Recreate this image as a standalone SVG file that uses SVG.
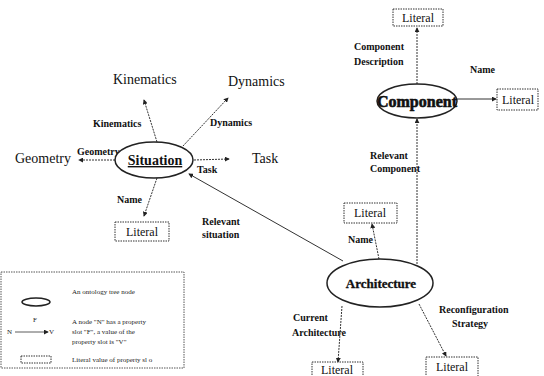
<svg xmlns="http://www.w3.org/2000/svg" width="544" height="376" viewBox="0 0 544 376" font-family="'Liberation Serif', 'Times New Roman', 'DejaVu Serif', serif">
<defs>
<marker id="ah" viewBox="0 0 6 6" refX="5" refY="3" markerWidth="5" markerHeight="5" orient="auto" markerUnits="userSpaceOnUse">
<path d="M0,0 L6,3 L0,6 Z" fill="#222"/>
</marker>
<style>
text{font-family:"Liberation Serif","Times New Roman","DejaVu Serif",serif}
.conn{stroke:#333;stroke-width:1;fill:none;stroke-dasharray:2,1;marker-end:url(#ah)}
.solid{stroke:#333;stroke-width:1;fill:none;marker-end:url(#ah)}
.ell{fill:#fff;stroke:#222;stroke-width:1.5}
.lit{fill:#fff;stroke:#333;stroke-width:1;stroke-dasharray:1.5,1}
.big{font-size:14px;fill:#111}
.lt{font-size:12px;fill:#111;text-anchor:middle}
.sm{font-size:10px;font-weight:bold;fill:#111}
.nd{font-weight:bold;fill:#111;text-anchor:middle}
.lg{font-size:7px;fill:#222}
</style>
</defs>
<rect width="544" height="376" fill="#fff"/>
<g id="connectors">
<line class="conn" x1="157" y1="142" x2="144" y2="100"/>
<line class="conn" x1="183" y1="146" x2="228" y2="98"/>
<line class="conn" x1="115" y1="160" x2="79" y2="160"/>
<line class="conn" x1="194" y1="160" x2="229" y2="159"/>
<line class="conn" x1="157" y1="178" x2="144" y2="216"/>
<line class="solid" x1="343" y1="261" x2="189" y2="174"/>
<line class="conn" x1="417" y1="84" x2="417" y2="28"/>
<line class="solid" x1="457" y1="99" x2="496" y2="99"/>
<line class="conn" x1="417" y1="264" x2="417" y2="119"/>
<line class="conn" x1="379" y1="259" x2="372" y2="224"/>
<line class="conn" x1="342" y1="306" x2="338" y2="362"/>
<line class="conn" x1="419" y1="304" x2="446" y2="356"/>
</g>
<g id="labels">
<text class="sm" x="93" y="127">Kinematics</text>
<text class="sm" x="210" y="126">Dynamics</text>
<text class="sm" x="77" y="155">Geometry</text>
<text class="sm" x="197" y="173">Task</text>
<text class="sm" x="117" y="203">Name</text>
<text class="sm" x="202" y="225">Relevant</text>
<text class="sm" x="202" y="238">situation</text>
<text class="sm" x="354" y="50">Component</text>
<text class="sm" x="354" y="65">Description</text>
<text class="sm" x="470" y="73">Name</text>
<text class="sm" x="370" y="159">Relevant</text>
<text class="sm" x="370" y="172">Component</text>
<text class="sm" x="348" y="243">Name</text>
<text class="sm" x="293" y="321">Current</text>
<text class="sm" x="292" y="336">Architecture</text>
<text class="sm" x="439" y="313">Reconfiguration</text>
<text class="sm" x="452" y="327">Strategy</text>
</g>
<g id="situation">
<ellipse class="ell" cx="154" cy="160" rx="39" ry="18"/>
<text class="nd" x="155" y="165" font-size="14" text-decoration="underline">Situation</text>
</g>
<g id="kinematics"><text class="big" x="113" y="84">Kinematics</text></g>
<g id="dynamics"><text class="big" x="228" y="86">Dynamics</text></g>
<g id="geometry"><text class="big" x="15" y="163">Geometry</text></g>
<g id="task"><text class="big" x="252" y="163">Task</text></g>
<g id="literal-situation">
<rect class="lit" x="115" y="222" width="54" height="19"/>
<text class="lt" x="142" y="236">Literal</text>
</g>
<g id="component">
<ellipse class="ell" cx="417" cy="101" rx="40" ry="17"/>
<text class="nd" x="417" y="107" font-size="16" stroke="#111" stroke-width="0.6">Component</text>
</g>
<g id="literal-desc">
<rect class="lit" x="393" y="9" width="50" height="17"/>
<text class="lt" x="418" y="22">Literal</text>
</g>
<g id="literal-compname">
<rect class="lit" x="497" y="89" width="41" height="21"/>
<text class="lt" x="518" y="104">Literal</text>
</g>
<g id="architecture">
<ellipse class="ell" cx="380" cy="283" rx="53" ry="24"/>
<text class="nd" x="381" y="288" font-size="13" stroke="#111" stroke-width="0.3">Architecture</text>
</g>
<g id="literal-archname">
<rect class="lit" x="344" y="203" width="53" height="20"/>
<text class="lt" x="370" y="217">Literal</text>
</g>
<g id="literal-current">
<rect class="lit" x="312" y="362" width="51" height="18"/>
<text class="lt" x="337" y="374">Literal</text>
</g>
<g id="literal-reconf">
<rect class="lit" x="426" y="357" width="52" height="22"/>
<text class="lt" x="452" y="371">Literal</text>
</g>
<g id="legend">
<rect x="1" y="272" width="183" height="96" fill="#fff" stroke="#555" stroke-width="1" stroke-dasharray="1.5,1"/>
<ellipse cx="36" cy="302" rx="14" ry="4" fill="none" stroke="#222" stroke-width="1.5"/>
<text class="lg" x="72" y="294">An ontology tree node</text>
<text class="lg" x="33" y="322">F</text>
<text class="lg" x="7" y="334">N</text>
<line x1="15" y1="332" x2="48" y2="332" stroke="#333" stroke-width="0.8" marker-end="url(#ah)"/>
<text class="lg" x="49" y="334">V</text>
<text class="lg" x="72" y="324">A node "N" has a property</text>
<text class="lg" x="72" y="334">slot "F", a value of the</text>
<text class="lg" x="72" y="344">property slot is "V"</text>
<rect x="21" y="356" width="30" height="7" fill="none" stroke="#333" stroke-width="1" stroke-dasharray="1.5,1"/>
<text class="lg" x="72" y="362">Literal value of property sl o</text>
</g>
</svg>
